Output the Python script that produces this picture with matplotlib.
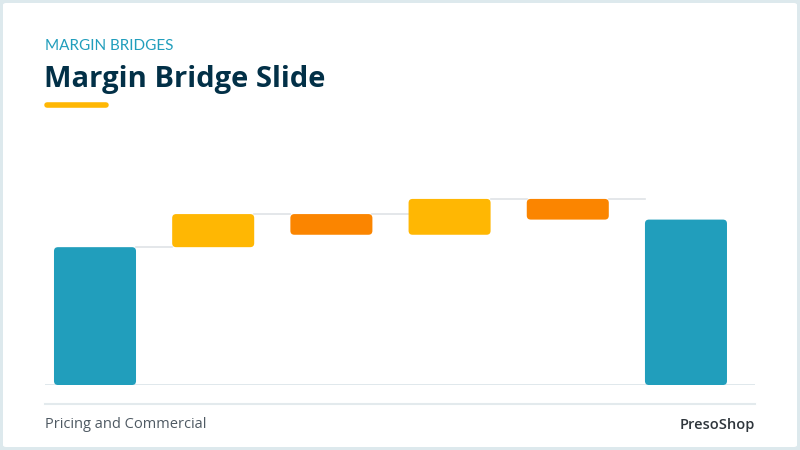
import matplotlib
matplotlib.use("Agg")
import matplotlib.pyplot as plt
from matplotlib.patches import FancyBboxPatch
from matplotlib.lines import Line2D

# ---- data ----
steps = ["Start", "Increase 1", "Decrease 1", "Increase 2", "Decrease 2", "End"]
kinds = ["total", "up", "down", "up", "down", "total"]
values = [100, 24, -15, 26, -15, 120]
colors = {"total": "#219ebc", "up": "#ffb703", "down": "#fb8500"}

kicker = "MARGIN BRIDGES"
title = "Margin Bridge Slide"
footer_left = "Pricing and Commercial"
footer_right = "PresoShop"

W, H = 800, 450
fig = plt.figure(figsize=(8, 4.5), dpi=100)
fig.patch.set_facecolor("#dde9ed")

def fx(px):
    return px / W

def fy(py):
    return 1 - py / H

# white card
card = FancyBboxPatch((fx(3), fy(447)), fx(794), 444 / H,
                      boxstyle="round,pad=0,rounding_size=0.004",
                      transform=fig.transFigure, facecolor="white",
                      edgecolor="none", zorder=-5)
fig.patches.append(card)

fig.text(fx(45), fy(46), kicker, color="#219ebc", fontsize=11, family="Lato",
         va="center", ha="left", zorder=5)
fig.text(fx(44), fy(80), title, color="#023047", fontsize=21, fontweight="bold",
         family="Open Sans", va="center", ha="left", zorder=5)
fig.lines.append(Line2D([fx(47), fx(106)], [fy(105), fy(105)], transform=fig.transFigure,
                        color="#ffb703", lw=4, solid_capstyle="round", zorder=5))

# footer
fig.lines.append(Line2D([fx(45), fx(755)], [fy(404), fy(404)], transform=fig.transFigure,
                        color="#e3eaed", lw=1.5, zorder=5))
fig.text(fx(45), fy(425), footer_left, color="#4f5a63", fontsize=10.5, family="Open Sans",
         va="center", ha="left", zorder=5)
fig.text(fx(755), fy(425), footer_right, color="#2e353b", fontsize=10.5, family="Open Sans",
         fontweight="semibold", va="center", ha="right", zorder=5)

# chart axes
ax_left, ax_right = 45, 755
ax_top, ax_bottom = 130, 385
ax = fig.add_axes([fx(ax_left), fy(ax_bottom), (ax_right - ax_left) / W, (ax_bottom - ax_top) / H])
ax.set_zorder(3)
ax.patch.set_visible(False)
for s in ax.spines.values():
    s.set_visible(False)
ax.set_xticks([])
ax.set_yticks([])
xmin, xmax = -0.423, 5.584
ymax = 185.0
ax.set_xlim(xmin, xmax)
ax.set_ylim(0, ymax)

bw = 0.694
spans = []
running = 0
for k, v in zip(kinds, values):
    if k == "total":
        lo, hi = 0, v
        running = v
    else:
        new = running + v
        lo, hi = min(running, new), max(running, new)
        running = new
    spans.append((lo, hi))

px_x = (ax_right - ax_left) / (xmax - xmin)
px_y = (ax_bottom - ax_top) / ymax
r_px = 4
rx = r_px / px_x
aspect = (r_px / px_y) / rx

ax.axhline(0, color="#dde6ea", lw=2, zorder=1)

for i in range(len(steps) - 1):
    top = spans[i][1]
    ax.plot([i + bw / 2, i + 1 - bw / 2], [top, top], color="#dfe3e6", lw=1.2, zorder=1)

for i, (k, (lo, hi)) in enumerate(zip(kinds, spans)):
    p = FancyBboxPatch((i - bw / 2, lo), bw, hi - lo,
                       boxstyle=f"round,pad=0,rounding_size={rx}",
                       mutation_aspect=aspect, facecolor=colors[k], edgecolor="none", zorder=3)
    ax.add_patch(p)

fig.savefig("out.png", dpi=100, facecolor=fig.get_facecolor())
